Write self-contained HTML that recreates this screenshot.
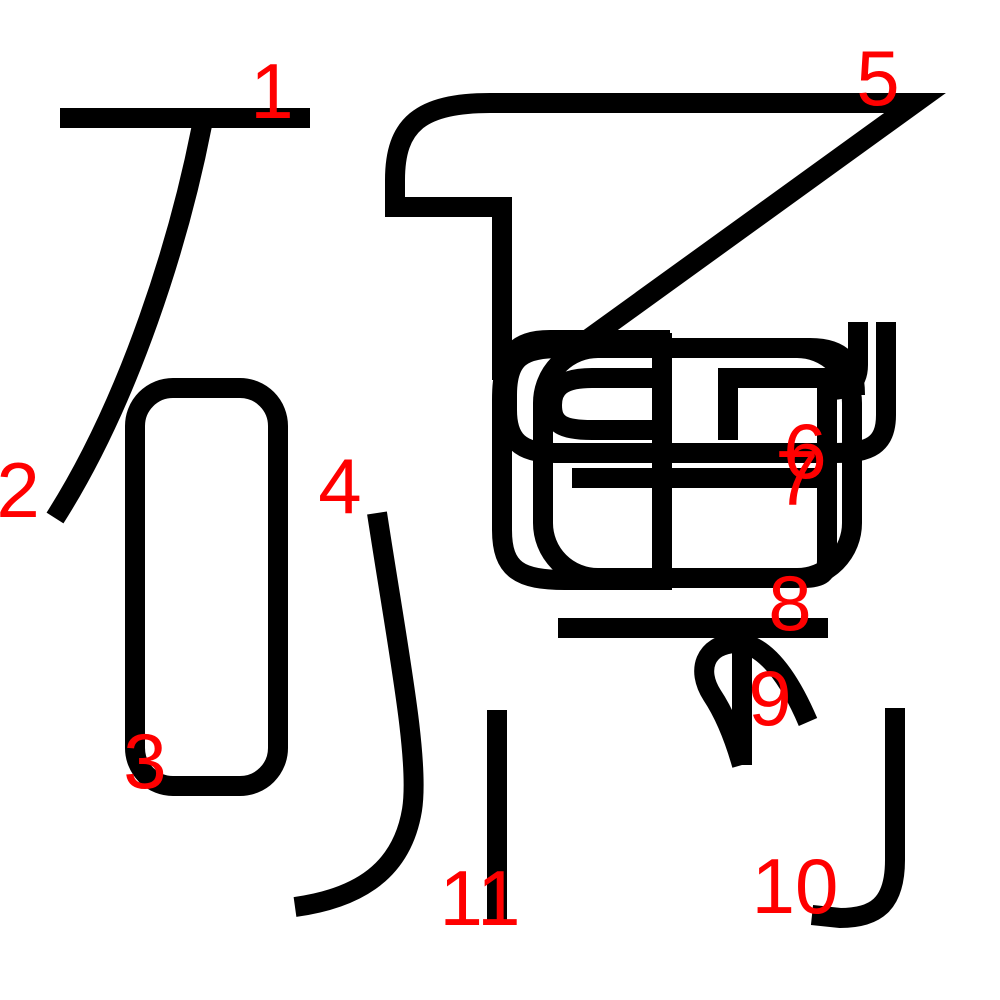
<!DOCTYPE html>
<html><head><meta charset="utf-8"><style>
html,body{margin:0;padding:0;background:#fff;width:1000px;height:1000px;overflow:hidden}
svg{display:block}
text{font-family:"Liberation Sans",sans-serif;font-size:78px;fill:#f00;text-anchor:middle}
</style></head><body>
<svg width="1000" height="1000" viewBox="0 0 1000 1000">
<g fill="none" stroke="#000" stroke-width="20">
<path d="M60,118 L310,118"/>
<path d="M203,120 C180,240 130,400 55,518"/>
<rect x="135" y="388" width="143" height="398" rx="38"/>
<path d="M377,513 C398,650 420,760 412,810 C402,870 360,898 295,907"/>
<path d="M502,380 L502,207 L395,207 L395,180 C395,125 420,103 490,103 L915,103 L580,345"/>
<path d="M670,340 L550,340 C515,340 502,355 502,400 L502,530 C502,570 520,580 565,580 L670,580"/>
<path d="M662,333 L662,590"/>
<rect x="543" y="348" width="309" height="230" rx="55"/>
<path d="M835,453 L555,453 C520,453 507,440 507,410 L507,395 C507,358 522,348 560,348 L810,348 C842,348 855,362 855,395"/>
<path d="M728,440 L728,378 L827,378 L827,560 C827,575 820,578 800,578"/>
<path d="M655,378 L592,378 C562,378 552,388 552,405 C552,424 562,430 592,430 L655,430"/>
<path d="M886,322 L886,415 C886,445 870,453 835,453"/>
<path d="M858,322 L858,365 C858,383 848,390 830,390"/>
<path d="M572,478 L818,478"/>
<path d="M558,628 L828,628"/>
<path d="M742,765 C732,730 722,710 712,695 C696,670 705,645 735,643 C765,642 790,680 808,722"/>
<path d="M742,640 L742,765"/>
<path d="M895,708 L895,860 C895,905 875,918 840,918 L812,915"/>
<path d="M497,710 L497,920"/>
</g>
<g>
<text x="272" y="118">1</text>
<text x="18" y="517">2</text>
<text x="145" y="788">3</text>
<text x="340" y="513">4</text>
<text x="878" y="105">5</text>
<text x="805" y="478">6</text>
<text x="797" y="505">7</text>
<text x="790" y="630">8</text>
<text x="770" y="725">9</text>
<text x="795" y="913">10</text>
<text x="480" y="925">11</text>
</g>
</svg>
</body></html>
